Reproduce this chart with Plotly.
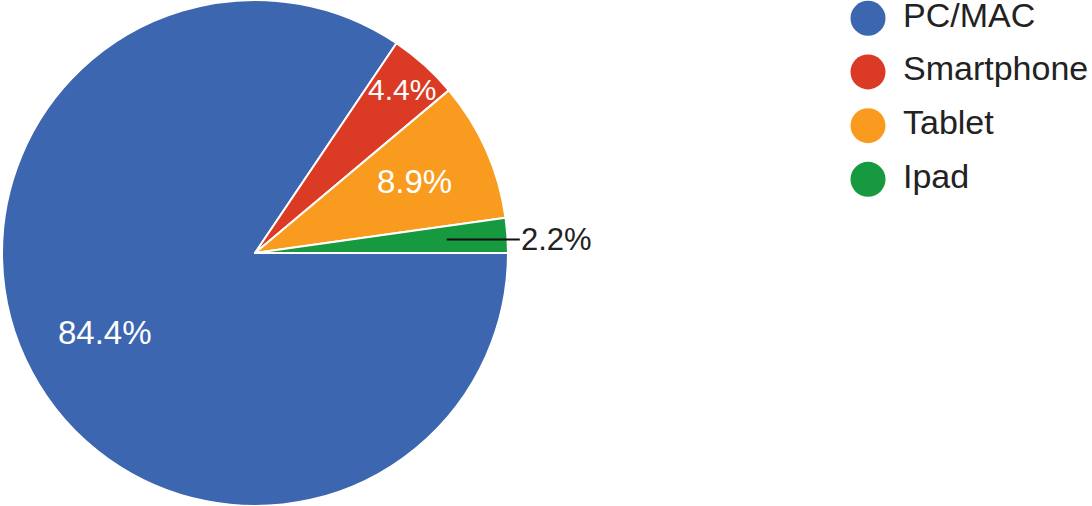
import math
import plotly.graph_objects as go

# Device share (counts out of 45 respondents)
labels = ["PC/MAC", "Smartphone", "Tablet", "Ipad"]
counts = [38, 2, 4, 1]
colors = ["#3d66b0", "#db3b24", "#f89b1e", "#16993f"]

FONT = "Arial, Liberation Sans, sans-serif"
W, H = 1092, 506

# pie sits on the left: domain gives centre ~ (255, 253) px, radius 253 px
PIE_X = [0, 510 / W]
cx_px = (PIE_X[0] + PIE_X[1]) / 2 * W
cy_px = H / 2
r_px = min((PIE_X[1] - PIE_X[0]) * W, H) / 2

fig = go.Figure()

fig.add_trace(go.Pie(
    labels=labels,
    values=counts,
    sort=False,
    direction="clockwise",
    rotation=90,
    marker=dict(colors=colors, line=dict(color="white", width=2)),
    textinfo="none",
    domain=dict(x=PIE_X, y=[0, 1]),
    showlegend=False,
    hoverinfo="label+percent",
))

# legend drawn as big circles with labels (x axis in pixels from 830)
fig.add_trace(go.Scatter(
    x=[38] * len(labels), y=labels,
    mode="markers",
    marker=dict(size=35, color=colors),
    showlegend=False, hoverinfo="skip", cliponaxis=False,
))
fig.add_trace(go.Scatter(
    x=[73] * len(labels), y=labels,
    mode="text",
    text=labels,
    textposition="middle right",
    textfont=dict(family=FONT, size=34, color="#222222"),
    showlegend=False, hoverinfo="skip", cliponaxis=False,
))

# percentage labels placed at each slice's mid angle (clockwise from 3 o'clock)
total = sum(counts)
radial = [0.67, 0.87, 0.69, 0.76]
sizes = [33, 30, 33, 31]
start = 0.0
for i, c in enumerate(counts):
    mid = start + 0.5 * c / total
    start += c / total
    ang = 2 * math.pi * mid
    x = cx_px + radial[i] * r_px * math.cos(ang)
    y = cy_px + radial[i] * r_px * math.sin(ang)
    txt = f"{c / total:.1%}"
    if i < 3:
        fig.add_annotation(
            x=x / W, y=1 - y / H, xref="paper", yref="paper",
            xanchor="center", yanchor="middle",
            text=txt, showarrow=False,
            font=dict(family=FONT, size=sizes[i], color="white"),
        )
    else:
        # small slice: label outside with a leader line
        fig.add_annotation(
            x=x / W, y=1 - y / H, xref="paper", yref="paper",
            text=txt,
            showarrow=True, arrowhead=0, arrowwidth=2, arrowcolor="#111111",
            axref="pixel", ayref="pixel", ax=110, ay=0, standoff=0,
            font=dict(family=FONT, size=sizes[i], color="#222222"),
        )

fig.update_layout(
    width=W, height=H,
    margin=dict(l=0, r=0, t=0, b=0),
    paper_bgcolor="white",
    plot_bgcolor="white",
    xaxis=dict(domain=[830 / W, 1.0], range=[0, W - 830], visible=False, fixedrange=True),
    yaxis=dict(domain=[0.6, 1.0], range=[3.43, -0.34], visible=False, fixedrange=True,
               type="category"),
)

fig.write_html("out.html", config={"displayModeBar": False},
               post_script="document.body.style.margin='0px';")
